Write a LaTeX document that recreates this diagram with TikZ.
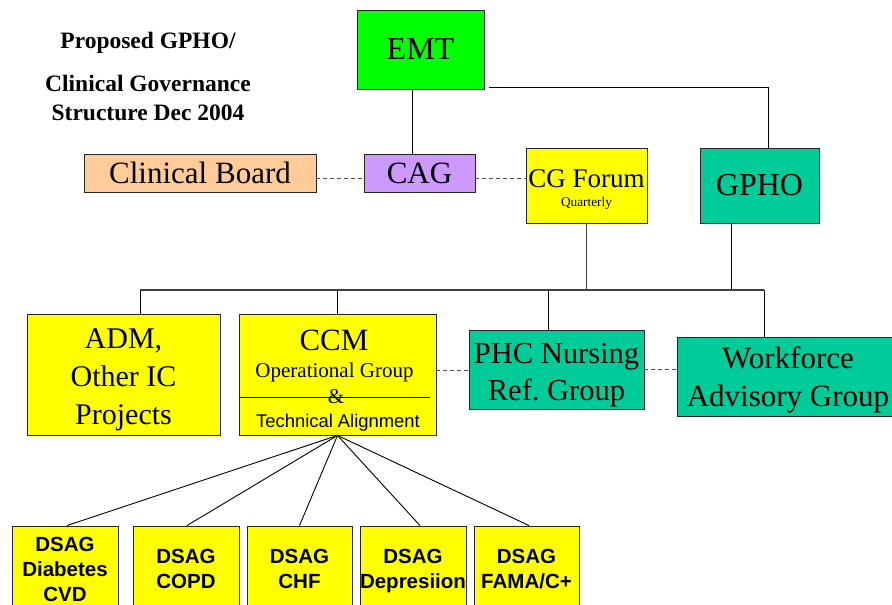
\documentclass[tikz,border=0pt]{standalone}
\usepackage{fontspec}
\setmainfont{Liberation Serif}
\setsansfont{Liberation Sans}
\definecolor{emtgreen}{HTML}{00FF00}
\definecolor{peach}{HTML}{FFCC99}
\definecolor{lav}{HTML}{CC99FF}
\definecolor{yel}{HTML}{FFFF00}
\definecolor{teal}{HTML}{00CC99}
\newcommand\fsz[2]{\fontsize{#1}{#2}\selectfont}
\newcommand\lift[1]{\rule{0pt}{#1}}
\frenchspacing
\begin{document}
\begin{tikzpicture}[x=1pt,y=-1pt,
  box/.style={draw=black!85, line width=0.9pt, inner sep=0pt, align=center},
  link/.style={draw=black, line width=0.9pt},
  buslink/.style={draw=black!75, line width=1.1pt},
  dlink/.style={draw=black!70, line width=0.9pt, dash pattern=on 4pt off 3pt},
  ttl/.style={anchor=base, inner sep=0pt, font=\fsz{23.5}{28}\bfseries},
  dsag/.style={box, fill=yel, minimum width=106pt, minimum height=86pt, font=\fsz{20.5}{25}\sffamily\bfseries}
]
\useasboundingbox (0,0) rectangle (892,605);
\clip (0,0) rectangle (892,605);

% title
\node[ttl] (t1) at (148,48) {Proposed GPHO/};
\node[ttl] (t2) at (148,91) {Clinical Governance};
\node[ttl] (t3) at (148,120) {Structure Dec 2004};

% top boxes
\node[box, fill=emtgreen, minimum width=127pt, minimum height=79pt, font=\fsz{32}{36}] (emt) at (420.5,49.5) {EMT};
\node[box, fill=peach, minimum width=232pt, minimum height=38pt, font=\fsz{31}{36}] (cb) at (200,173) {Clinical Board};
\node[box, fill=lav, minimum width=111pt, minimum height=38pt, font=\fsz{31}{36}] (cag) at (419.5,173) {CAG};
\node[box, fill=yel, minimum width=121pt, minimum height=75pt, font=\fsz{27}{20}] (cgf) at (586.5,185.5) {\lift{26pt}CG Forum\\[-0.5pt]{\fsz{13.3}{15}Quarterly}};
\node[box, fill=teal, minimum width=119pt, minimum height=75pt, font=\fsz{32}{36}] (gpho) at (759.5,185.5) {GPHO};

% middle boxes
\node[box, fill=yel, minimum width=193pt, minimum height=121pt, font=\fsz{30}{38}] (adm) at (123.5,374.5) {\lift{31pt}ADM,\\Other IC\\Projects};
\node[box, fill=yel, minimum width=197pt, minimum height=121pt] (ccm) at (337.5,374.5) {};
\node[anchor=base, inner sep=0pt, font=\fsz{31}{36}] (ccmA) at (334,350) {CCM};
\node[anchor=base, inner sep=0pt, font=\fsz{21}{24}] (ccmB) at (334.5,377) {Operational Group};
\node[anchor=base, inner sep=0pt, font=\fsz{21}{24}] (ccmC) at (336,403) {\&};
\node[anchor=base, inner sep=0pt, font=\fsz{18.4}{22}\sffamily] (ccmD) at (338,427) {Technical Alignment};
\draw[link] ([yshift=-22.5pt]ccm.west) -- ++(191,0);

\node[box, fill=teal, minimum width=175pt, minimum height=79pt, font=\fsz{30.5}{37}] (phc) at (556.5,369.5) {\lift{31pt}PHC Nursing\\Ref. Group};
\node[box, fill=teal, minimum width=222pt, minimum height=79pt, font=\fsz{31}{38}] (wf) at (788,376.5) {\lift{28pt}Workforce\\Advisory Group};

% DSAG boxes
\node[dsag] (d1) at (65,569) {DSAG\\Diabetes\\CVD};
\node[dsag] (d2) at (186,569) {DSAG\\COPD};
\node[dsag, minimum width=105pt] (d3) at (299.5,569) {DSAG\\CHF};
\node[dsag] (d4) at (413,569) {\lift{19pt}DSAG\\Depresiion};
\node[dsag, minimum width=105pt] (d5) at (526.5,569) {DSAG\\FAMA/C+};

% connectors top
\draw[link] ([xshift=-8.5pt]emt.south) -- ([xshift=-7.5pt]cag.north);
\draw[link] ([xshift=5pt,yshift=2pt]emt.south east) -| ([xshift=8.5pt]gpho.north);
\draw[dlink] ([yshift=-5pt]cb.east) -- ([yshift=-5pt]cag.west);
\draw[dlink] ([yshift=-5pt]cag.east) -- ([yshift=-5pt]cag.east -| cgf.west);

% bus
\coordinate (busL) at (140,290);
\coordinate (busR) at (764,290);
\draw[buslink] (busL) -- (busR);
\draw[buslink] (cgf.south) -- (cgf.south |- busL);
\draw[link] ([xshift=-28.5pt]gpho.south) -- ([xshift=-28.5pt]gpho.south |- busL);
\draw[link] (busL) -- (busL |- adm.north);
\draw[link] (ccm.north |- busL) -- (ccm.north);
\draw[link] ([xshift=-8.5pt]phc.north |- busL) -- ([xshift=-8.5pt]phc.north);
\draw[link] (busR) -- (busR |- wf.north);

% dashed middle
\draw[dlink] ([yshift=4.5pt]ccm.east) -- ([yshift=4.5pt]ccm.east -| phc.west);
\draw[dlink] (phc.east) -- (phc.east -| wf.west);

% fan
\draw[link] (ccm.south) -- ([xshift=2pt]d1.north);
\draw[link] (ccm.south) -- ([xshift=1pt]d2.north);
\draw[link] (ccm.south) -- (d3.north);
\draw[link] (ccm.south) -- ([xshift=7pt]d4.north);
\draw[link] (ccm.south) -- ([xshift=2.5pt]d5.north);
\end{tikzpicture}
\end{document}
